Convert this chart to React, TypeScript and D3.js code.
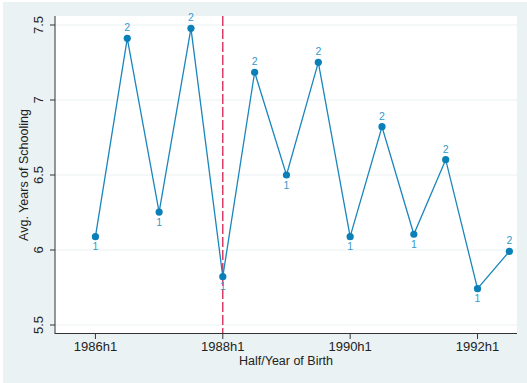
import React from "react";
import * as d3 from "d3";

const periods = ["1986h1","1986h2","1987h1","1987h2","1988h1","1988h2","1989h1","1989h2","1990h1","1990h2","1991h1","1991h2","1992h1","1992h2"];
const halves = [1,2,1,2,1,2,1,2,1,2,1,2,1,2];
const schooling = [6.089,7.411,6.253,7.478,5.822,7.185,6.5,7.251,6.089,6.822,6.105,6.602,5.742,5.991];
const yTicks = [5.5,6,6.5,7,7.5];
const xTickLabels = ["1986h1","1988h1","1990h1","1992h1"];
const cutoff = "1988h1";

const W = 527, H = 383;
const plot = { left: 55, right: 517, top: 16, bottom: 334 };
const font = "'Liberation Sans', Arial, sans-serif";

export default function App() {
  const x = d3.scaleLinear().domain([-1.27, 13.24]).range([plot.left, plot.right]);
  const y = d3.scaleLinear().domain([5.5, 7.5]).range([325, 25]);
  const idx = (p: string) => periods.indexOf(p);
  const line = d3.line<number>().x((_, i) => x(i)).y((d) => y(d));
  const lineColor = "#1a86bc";
  const labelColor = "#3399cc";
  return (
    <svg width={W} height={H} style={{ position: "absolute", left: 0, top: 0 }} fontFamily={font}>
      <rect x={0} y={0} width={W} height={H} fill="#ffffff" />
      <rect x={3} y={2} width={W - 3} height={H - 2} fill="#eaf2f3" />
      <rect x={plot.left} y={plot.top} width={plot.right - plot.left} height={plot.bottom - plot.top} fill="#ffffff" />
      {yTicks.map((t) => (
        <line key={"g" + t} x1={plot.left} x2={plot.right} y1={y(t)} y2={y(t)} stroke="#eaf2f3" strokeWidth={1.2} />
      ))}
      <line x1={x(idx(cutoff))} x2={x(idx(cutoff))} y1={plot.top} y2={plot.bottom} stroke="#d6204e" strokeWidth={1.3} strokeDasharray="10,3" />
      <path d={line(schooling) || ""} fill="none" stroke={lineColor} strokeWidth={1.3} />
      {schooling.map((v, i) => (
        <circle key={"c" + i} cx={x(i)} cy={y(v)} r={3.6} fill="#0b80b8" />
      ))}
      {schooling.map((v, i) => (
        <text key={"l" + i} x={x(i)} y={halves[i] === 2 ? y(v) - 7 : y(v) + 13.5} fontSize={10.5} fill={labelColor} textAnchor="middle">
          {halves[i]}
        </text>
      ))}
      <line x1={plot.left} x2={plot.left} y1={plot.top} y2={plot.bottom} stroke="#333" strokeWidth={1} />
      <line x1={plot.left} x2={plot.right} y1={plot.bottom - 0.5} y2={plot.bottom - 0.5} stroke="#333" strokeWidth={1} />
      {yTicks.map((t) => (
        <g key={"yt" + t}>
          <line x1={plot.left - 5} x2={plot.left} y1={y(t)} y2={y(t)} stroke="#333" />
          <text transform={`translate(43,${y(t)}) rotate(-90)`} textAnchor="middle" fontSize={13} fill="#222">
            {t}
          </text>
        </g>
      ))}
      {xTickLabels.map((p) => (
        <g key={"xt" + p}>
          <line x1={x(idx(p))} x2={x(idx(p))} y1={plot.bottom} y2={plot.bottom + 5} stroke="#333" />
          <text x={x(idx(p))} y={351} textAnchor="middle" fontSize={13} fill="#222">
            {p}
          </text>
        </g>
      ))}
      <text x={(plot.left + plot.right) / 2} y={365} textAnchor="middle" fontSize={12.5} fill="#222">
        Half/Year of Birth
      </text>
      <text transform={`translate(28,${(plot.top + plot.bottom) / 2}) rotate(-90)`} textAnchor="middle" fontSize={12.5} fill="#222">
        Avg. Years of Schooling
      </text>
    </svg>
  );
}
